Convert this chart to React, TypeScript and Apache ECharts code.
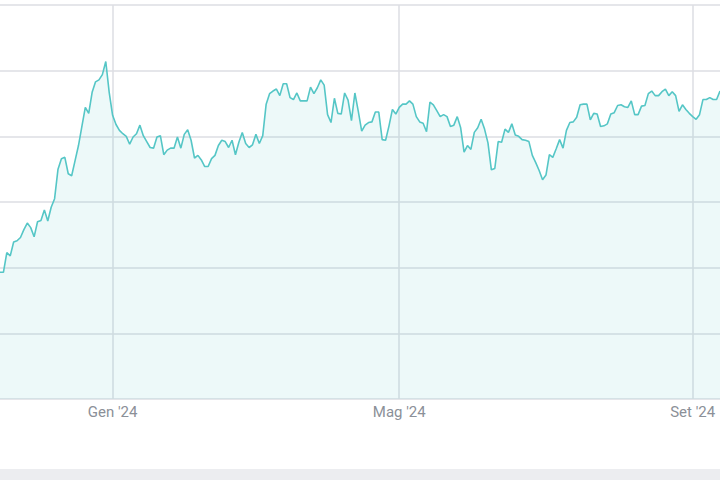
import React, { useEffect, useRef } from "react";
import * as echarts from "echarts";

// Trading-day calendar (weekdays minus market holidays)
const firstTradingDay = "2023-11-13";
const holidays = [
  "2023-12-25", "2023-12-26", "2024-01-01", "2024-03-29",
  "2024-04-01", "2024-05-01", "2024-08-15",
];

// Closing values, one per trading day
const prices = [
  19.3, 19.3, 22.3, 21.8, 23.9, 24.1, 24.6, 25.8, 26.8, 26.1,
  24.7, 27.0, 27.2, 28.8, 27.1, 29.2, 30.5, 35.0, 36.6, 36.8,
  34.3, 34.0, 36.3, 38.6, 41.5, 44.4, 43.5, 46.7, 48.3, 48.6,
  49.4, 51.4, 46.7, 43.2, 41.8, 40.9, 40.4, 40.0, 38.8, 39.9,
  40.4, 41.7, 40.1, 39.2, 38.3, 38.2, 39.9, 40.1, 37.2, 37.9,
  38.2, 38.2, 39.9, 38.2, 40.3, 41.0, 39.4, 36.7, 37.1, 36.4,
  35.4, 35.4, 36.6, 37.1, 38.6, 39.4, 39.2, 38.3, 39.4, 37.2,
  39.1, 40.6, 38.9, 38.3, 38.7, 40.3, 38.9, 40.1, 44.9, 46.5,
  46.9, 47.2, 46.2, 48.0, 48.0, 45.9, 45.6, 46.6, 45.4, 45.4,
  45.4, 47.5, 46.5, 47.4, 48.6, 47.8, 43.3, 42.1, 45.8, 43.5,
  43.4, 46.6, 45.5, 42.4, 46.6, 43.8, 40.8, 41.7, 42.1, 42.2,
  43.7, 43.7, 39.5, 39.4, 41.6, 44.1, 43.4, 44.4, 44.9, 44.9,
  45.4, 44.9, 43.0, 42.2, 42.0, 40.7, 45.2, 44.8, 43.9, 43.0,
  43.3, 43.0, 41.5, 41.7, 43.0, 41.3, 37.6, 38.6, 38.0, 40.6,
  41.3, 42.6, 41.1, 39.0, 34.9, 35.1, 39.2, 39.1, 41.1, 40.6,
  41.9, 40.2, 40.0, 39.5, 39.4, 39.2, 37.1, 36.0, 34.8, 33.4,
  34.1, 37.2, 36.8, 38.1, 39.5, 38.2, 40.9, 42.1, 42.2, 42.9,
  44.8, 44.9, 44.9, 42.5, 43.5, 43.4, 41.5, 41.6, 41.9, 43.4,
  43.6, 44.7, 44.8, 44.5, 44.4, 45.4, 43.3, 43.3, 44.6, 44.7,
  46.5, 46.9, 46.2, 46.2, 46.8, 47.2, 46.2, 46.8, 46.2, 43.8,
  44.8, 44.1, 43.5, 43.0, 42.6, 43.3, 45.6, 45.6, 45.9, 45.6,
  45.6, 46.9,
];

// Axis ticks
const tickDates = ["2024-01-02", "2024-05-02", "2024-09-02"];
const tickLabels = ["Gen '24", "Mag '24", "Set '24"];

function buildTradingDays(start: string, count: number, skip: string[]): string[] {
  const out: string[] = [];
  const d = new Date(start + "T00:00:00Z");
  while (out.length < count) {
    const wd = d.getUTCDay();
    const iso = d.toISOString().slice(0, 10);
    if (wd !== 0 && wd !== 6 && !skip.includes(iso)) out.push(iso);
    d.setUTCDate(d.getUTCDate() + 1);
  }
  return out;
}

const dates = buildTradingDays(firstTradingDay, prices.length, holidays);

export default function App() {
  const ref = useRef<HTMLDivElement>(null);

  useEffect(() => {
    if (!ref.current) return;
    const chart = echarts.init(ref.current, undefined, { renderer: "svg" });
    const isTick = (_i: number, v: string) => tickDates.includes(v);
    chart.setOption({
      animation: false,
      grid: { left: 0, right: 0, top: 5, bottom: 81, containLabel: false },
      graphic: [
        {
          type: "rect",
          left: 0,
          top: 469,
          shape: { width: 720, height: 11 },
          style: { fill: "#ecedf0" },
          silent: true,
        },
      ],
      xAxis: {
        type: "category",
        data: dates,
        boundaryGap: false,
        axisLine: { show: false },
        axisTick: { show: false },
        axisLabel: {
          interval: isTick,
          formatter: (v: string) => {
            const k = tickDates.indexOf(v);
            return k >= 0 ? tickLabels[k] : "";
          },
          color: "#8b9098",
          fontFamily: "Roboto",
          fontSize: 15,
          margin: 5,
        },
        splitLine: {
          show: true,
          interval: isTick,
          lineStyle: { color: "#dcdee3", width: 1.5 },
        },
      },
      yAxis: {
        type: "value",
        min: 0,
        max: 60,
        interval: 10,
        axisLabel: { show: false },
        axisLine: { show: false },
        axisTick: { show: false },
        splitLine: { show: true, lineStyle: { color: "#dcdee3", width: 1.5 } },
      },
      series: [
        {
          type: "line",
          data: prices,
          symbol: "none",
          showSymbol: false,
          lineStyle: { color: "#55c6c6", width: 1.6 },
          itemStyle: { color: "#55c6c6" },
          areaStyle: { color: "rgba(85,198,198,0.15)" },
        },
      ],
    });
    return () => chart.dispose();
  }, []);

  return (
    <div
      ref={ref}
      style={{ position: "fixed", left: 0, top: 0, width: 720, height: 480, background: "#ffffff" }}
    />
  );
}
